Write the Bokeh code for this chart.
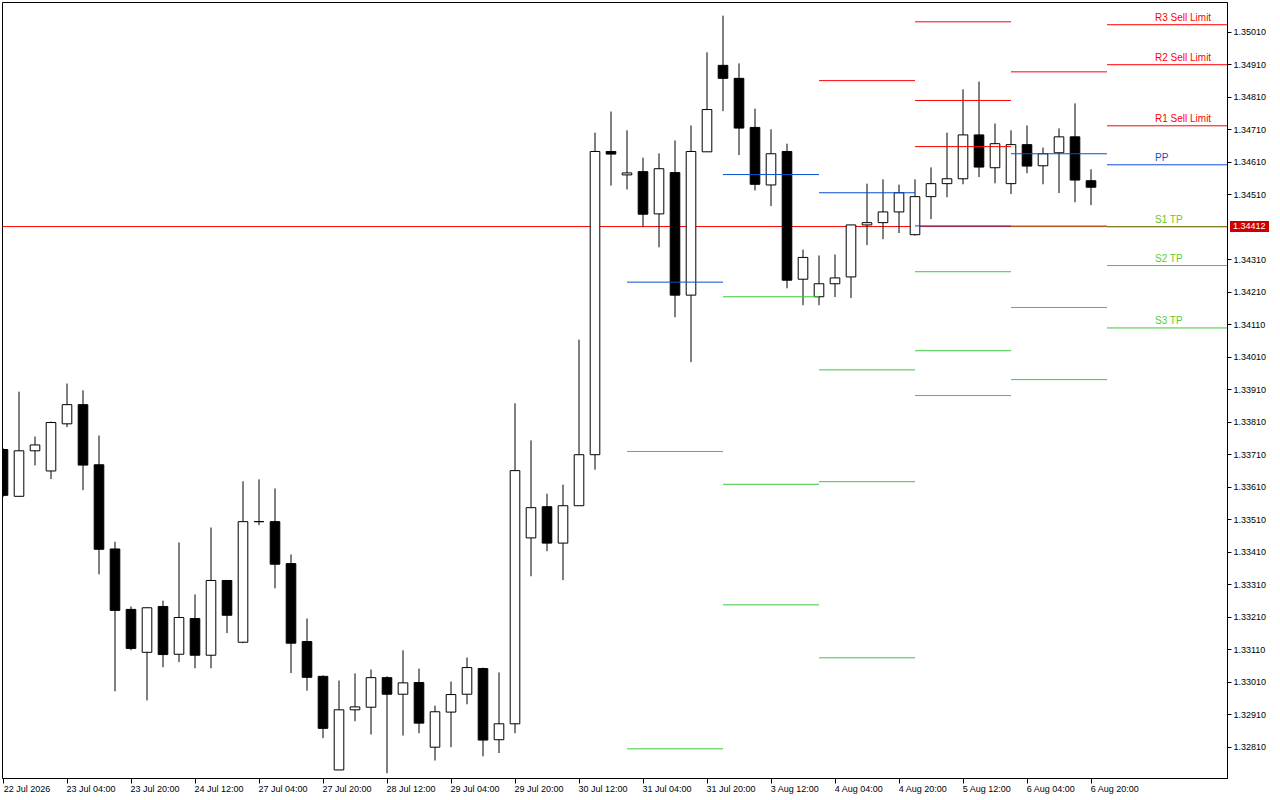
from bokeh.plotting import figure
from bokeh.models import (Range1d, FixedTicker, LinearAxis, PrintfTickFormatter,
                          ColumnDataSource, Span, Div)
from bokeh.core.properties import value
from bokeh.embed import file_html
from bokeh.resources import INLINE

# ---------------- data (H4 candles) ----------------
opens = [1.33726, 1.33582, 1.33722, 1.33660, 1.33805, 1.33864, 1.33679, 1.33420, 1.33234, 1.33102,
         1.33243, 1.33096, 1.33206, 1.33093, 1.33323, 1.33133, 1.33504, 1.33504, 1.33375, 1.33135,
         1.33028, 1.32740, 1.32925, 1.32933, 1.33024, 1.32973, 1.33009, 1.32810, 1.32918, 1.32973,
         1.33052, 1.32833, 1.32882, 1.33454, 1.33550, 1.33438, 1.33553, 1.33710, 1.34643, 1.34571,
         1.34581, 1.34451, 1.34578, 1.34201, 1.34642, 1.34908, 1.34868, 1.34717, 1.34540, 1.34643,
         1.34250, 1.34196, 1.34236, 1.34257, 1.34417, 1.34424, 1.34457, 1.34387, 1.34504, 1.34544,
         1.34559, 1.34694, 1.34593, 1.34544, 1.34664, 1.34599, 1.34639, 1.34688, 1.34553]
highs = [1.33730, 1.33904, 1.33766, 1.33812, 1.33929, 1.33908, 1.33769, 1.33442, 1.33243, 1.33240,
         1.33261, 1.33440, 1.33280, 1.33486, 1.33323, 1.33628, 1.33634, 1.33606, 1.33403, 1.33206,
         1.33031, 1.33015, 1.33037, 1.33049, 1.33028, 1.33108, 1.33052, 1.32938, 1.33012, 1.33086,
         1.33055, 1.33040, 1.33868, 1.33754, 1.33590, 1.33618, 1.34064, 1.34701, 1.34766, 1.34708,
         1.34624, 1.34637, 1.34677, 1.34723, 1.34948, 1.35061, 1.34914, 1.34775, 1.34711, 1.34667,
         1.34341, 1.34323, 1.34326, 1.34417, 1.34544, 1.34557, 1.34541, 1.34557, 1.34594, 1.34701,
         1.34834, 1.34858, 1.34729, 1.34708, 1.34723, 1.34655, 1.34714, 1.34791, 1.34588]
lows = [1.33580, 1.33582, 1.33677, 1.33635, 1.33795, 1.33601, 1.33342, 1.32982, 1.33108, 1.32954,
        1.33056, 1.33072, 1.33053, 1.33053, 1.33161, 1.33130, 1.33493, 1.33299, 1.33038, 1.32984,
        1.32838, 1.32740, 1.32890, 1.32849, 1.32730, 1.32846, 1.32853, 1.32769, 1.32810, 1.32942,
        1.32782, 1.32792, 1.32853, 1.33336, 1.33413, 1.33324, 1.33553, 1.33664, 1.34538, 1.34526,
        1.34412, 1.34348, 1.34133, 1.33995, 1.34642, 1.34767, 1.34632, 1.34523, 1.34475, 1.34222,
        1.34170, 1.34170, 1.34195, 1.34192, 1.34355, 1.34373, 1.34392, 1.34384, 1.34435, 1.34502,
        1.34542, 1.34564, 1.34545, 1.34512, 1.34576, 1.34542, 1.34515, 1.34487, 1.34478]
closes = [1.33585, 1.33722, 1.33740, 1.33809, 1.33864, 1.33678, 1.33419, 1.33231, 1.33114, 1.33239,
          1.33095, 1.33209, 1.33093, 1.33323, 1.33216, 1.33504, 1.33504, 1.33373, 1.33130, 1.33025,
          1.32868, 1.32925, 1.32934, 1.33024, 1.32973, 1.33008, 1.32884, 1.32919, 1.32972, 1.33055,
          1.32832, 1.32882, 1.33661, 1.33547, 1.33438, 1.33553, 1.33710, 1.34643, 1.34635, 1.34577,
          1.34450, 1.34590, 1.34201, 1.34643, 1.34772, 1.34868, 1.34715, 1.34542, 1.34636, 1.34247,
          1.34317, 1.34236, 1.34254, 1.34417, 1.34424, 1.34457, 1.34516, 1.34504, 1.34544, 1.34559,
          1.34694, 1.34595, 1.34667, 1.34664, 1.34598, 1.34636, 1.34688, 1.34555, 1.34533]

# x-axis ticks (bar index) and their labels
x_tick_bars = [0, 4, 8, 12, 16, 20, 24, 28, 32, 36, 40, 44, 48, 52, 56, 60, 64, 68]
x_tick_labels = ["22 Jul 2026", "23 Jul 04:00", "23 Jul 20:00", "24 Jul 12:00", "27 Jul 04:00",
                 "27 Jul 20:00", "28 Jul 12:00", "29 Jul 04:00", "29 Jul 20:00", "30 Jul 12:00",
                 "31 Jul 04:00", "31 Jul 20:00", "3 Aug 12:00", "4 Aug 04:00", "4 Aug 20:00",
                 "5 Aug 12:00", "6 Aug 04:00", "6 Aug 20:00"]

# price axis ticks (1.34410 is hidden behind the current-price box)
y_ticks = [1.32810, 1.32910, 1.33010, 1.33110, 1.33210, 1.33310, 1.33410, 1.33510, 1.33610,
           1.33710, 1.33810, 1.33910, 1.34010, 1.34110, 1.34210, 1.34310, 1.34510,
           1.34610, 1.34710, 1.34810, 1.34910, 1.35010]

current_price = 1.34412

# daily pivot levels: first bar of each day (31 Jul, 3 Aug, 4 Aug, 5 Aug, 6 Aug, 7 Aug)
day_start_bars = [39, 45, 51, 57, 63, 69]
piv_pp = [1.34241, 1.34572, 1.34516, 1.34414, 1.34636, 1.34602]
piv_r1 = [1.35158, 1.35148, 1.34861, 1.34658, 1.34888, 1.34722]
piv_r2 = [1.35683, 1.35525, 1.35407, 1.34800, 1.35110, 1.34910]
piv_r3 = [1.36600, 1.36102, 1.35753, 1.35042, 1.35362, 1.35033]
piv_s1 = [1.33720, 1.34196, 1.33971, 1.34273, 1.34414, 1.34411]
piv_s2 = [1.32805, 1.33619, 1.33627, 1.34030, 1.34163, 1.34292]
piv_s3 = [1.32274, 1.33248, 1.33085, 1.33892, 1.33941, 1.34100]
level_names = ["R3 Sell Limit", "R2 Sell Limit", "R1 Sell Limit", "PP", "S1 TP", "S2 TP", "S3 TP"]

# ---------------- styling ----------------
RED = "#ff0000"
BLUE = "#0a50d2"
GREEN = "#3ec83a"
GREEN_TXT = "#5ccc2a"
FONT = "Liberation Sans"

x_start, x_end = -0.03125, 76.53125
y_bottom, y_top = 1.327137, 1.351014

p = figure(width=1280, height=800, output_backend="svg", toolbar_location=None,
           x_range=Range1d(x_start, x_end), y_range=Range1d(y_bottom, y_top),
           y_axis_location="right", min_border_left=2, min_border_top=2,
           min_border_right=53, min_border_bottom=22)
p.background_fill_color = "white"
p.border_fill_color = "white"
p.outline_line_color = "black"
p.outline_line_width = 1
p.xgrid.visible = False
p.ygrid.visible = False

# right price axis
ya = p.yaxis[0]
ya.ticker = FixedTicker(ticks=y_ticks)
ya.formatter = PrintfTickFormatter(format="%.5f")
ya.major_tick_out = 4
ya.major_tick_in = 0
ya.minor_tick_line_color = None
ya.axis_line_color = "black"
ya.major_label_standoff = 2
ya.major_label_text_font = FONT
ya.major_label_text_font_size = "9px"
ya.major_label_text_color = "black"

# bottom axis 1: tick marks only
xa = p.xaxis[0]
xa.ticker = FixedTicker(ticks=x_tick_bars)
xa.major_label_overrides = {b: "" for b in x_tick_bars}
xa.major_label_text_font_size = "1px"
xa.major_label_standoff = 0
xa.major_tick_out = 5
xa.major_tick_in = 0
xa.minor_tick_line_color = None
xa.axis_line_color = "black"

# bottom axis 2: labels, shifted so that each one starts at its tick
label_shift = 1.5
shifted = [b + label_shift for b in x_tick_bars]
xa2 = LinearAxis(ticker=FixedTicker(ticks=shifted),
                 major_label_overrides={s: t for s, t in zip(shifted, x_tick_labels)},
                 axis_line_color=None, major_tick_line_color=None, minor_tick_line_color=None,
                 major_tick_out=0, major_tick_in=0, major_label_standoff=0,
                 major_label_text_font=FONT, major_label_text_font_size="9px",
                 major_label_text_color="black")
p.add_layout(xa2, "below")

# current price line (behind candles)
p.add_layout(Span(location=current_price, dimension="width", line_color=RED,
                  line_width=1, level="underlay"))

# candles
n = len(opens)
xs = list(range(n))
up = [c >= o for o, c in zip(opens, closes)]
src = ColumnDataSource(dict(
    x=xs, high=highs, low=lows,
    top=[max(o, c) for o, c in zip(opens, closes)],
    bottom=[min(o, c) for o, c in zip(opens, closes)],
    fill=["white" if u else "black" for u in up],
))
p.segment(x0="x", y0="high", x1="x", y1="low", source=src, line_color="black", line_width=1)
p.vbar(x="x", width=0.6, top="top", bottom="bottom", source=src,
       fill_color="fill", line_color="black", line_width=1)

# pivot segments
day_end_bars = day_start_bars[1:] + [x_end + 1]
levels = [(piv_r3, RED), (piv_r2, RED), (piv_r1, RED), (piv_pp, BLUE),
          (piv_s1, GREEN), (piv_s2, GREEN), (piv_s3, GREEN)]
sx0, sx1, sy, scol = [], [], [], []
for vals, col in levels:
    for d in range(len(day_start_bars)):
        sx0.append(day_start_bars[d])
        sx1.append(day_end_bars[d])
        sy.append(vals[d])
        scol.append(col)
p.segment(x0=sx0, y0=sy, x1=sx1, y1=sy, line_color=scol, line_width=1)

# labels of the current day's levels
last_levels = [piv_r3[-1], piv_r2[-1], piv_r1[-1], piv_pp[-1], piv_s1[-1], piv_s2[-1], piv_s3[-1]]
label_cols = [RED, RED, RED, BLUE, GREEN_TXT, GREEN_TXT, GREEN_TXT]
label_x = day_start_bars[-1] + 3
p.text(x=[label_x] * len(level_names), y=last_levels, text=level_names,
       text_color=label_cols, text_font=value(FONT), text_font_size="10px",
       text_baseline="alphabetic", text_align="left", y_offset=-7)

# current price box, sitting on the price axis next to the frame
frame_top_px, frame_h_px = 2, 776
box_top = frame_top_px + (y_top - current_price) / (y_top - y_bottom) * frame_h_px - 5.5
price_box = Div(text="%.5f" % current_price, width=39, height=11, margin=0,
                styles={"position": "absolute", "left": "1230px", "top": "%.1fpx" % box_top,
                        "background-color": "#cc0000", "color": "white",
                        "font-family": FONT, "font-size": "9px", "line-height": "11px",
                        "padding-left": "3px", "box-sizing": "border-box",
                        "white-space": "nowrap", "overflow": "hidden"})

html = file_html([p, price_box], INLINE)
html = html.replace("</head>", "<style>html,body{margin:0;padding:0;}</style></head>", 1)
open("out.html", "w").write(html)
